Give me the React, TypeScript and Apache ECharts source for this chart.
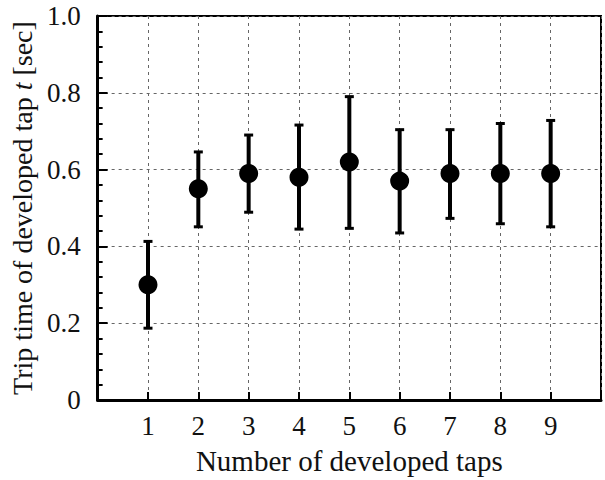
import React, { useEffect, useRef } from "react";
import * as echarts from "echarts";

const taps = [1, 2, 3, 4, 5, 6, 7, 8, 9];
const means = [0.3, 0.55, 0.59, 0.58, 0.62, 0.57, 0.59, 0.59, 0.59];
const upper = [0.413, 0.646, 0.69, 0.716, 0.79, 0.704, 0.704, 0.72, 0.728];
const lower = [0.187, 0.451, 0.489, 0.445, 0.447, 0.435, 0.473, 0.459, 0.451];

const FONT = "'Liberation Serif', 'Times New Roman', serif";

export default function App() {
  const ref = useRef<HTMLDivElement>(null);
  useEffect(() => {
    if (!ref.current) return;
    const chart = echarts.init(ref.current, null, { renderer: "svg" });
    const gridLine = { show: true, lineStyle: { color: "#666", width: 1, type: [3, 4] as any } };
    chart.setOption({
      animation: false,
      backgroundColor: "#fff",
      grid: { left: 97, top: 16, right: 4, bottom: 80, show: true, borderColor: "#000", borderWidth: 2, backgroundColor: "transparent" },
      xAxis: {
        type: "value",
        min: 0,
        max: 10,
        interval: 1,
        name: "Number of developed taps",
        nameLocation: "middle",
        nameGap: 46,
        nameTextStyle: { fontFamily: FONT, fontSize: 29, color: "#111" },
        axisLine: { show: true, onZero: false, lineStyle: { color: "#000", width: 3 } },
        axisTick: { show: true, inside: true, length: 8, lineStyle: { color: "#000", width: 2 } },
        axisLabel: {
          fontFamily: FONT,
          fontSize: 27,
          color: "#111",
          margin: 12,
          formatter: (v: number) => (v === 0 || v === 10 ? "" : String(v)),
        },
        splitLine: gridLine,
      },
      yAxis: {
        type: "value",
        min: 0,
        max: 1,
        interval: 0.2,
        name: "Trip time of developed tap {i|t} [sec]",
        nameLocation: "middle",
        nameGap: 54,
        nameTextStyle: {
          fontFamily: FONT,
          fontSize: 28,
          color: "#111",
          rich: { i: { fontFamily: FONT, fontSize: 28, fontStyle: "italic", color: "#111" } },
        },
        axisLine: { show: true, lineStyle: { color: "#000", width: 3 } },
        axisTick: { show: true, inside: true, length: 10, lineStyle: { color: "#000", width: 2 } },
        minorTick: { show: true, splitNumber: 5, length: 5, lineStyle: { color: "#000", width: 2 } },
        axisLabel: {
          fontFamily: FONT,
          fontSize: 27,
          color: "#111",
          margin: 17,
          formatter: (v: number) => (v === 0 ? "0" : v.toFixed(1)),
        },
        splitLine: gridLine,
      },
      series: [
        {
          type: "custom",
          data: taps.map((t, i) => [t, lower[i], upper[i]]),
          renderItem: (params: any, api: any) => {
            const x = api.value(0);
            const lo = api.coord([x, api.value(1)]);
            const hi = api.coord([x, api.value(2)]);
            const half = 4.5;
            const st = { stroke: "#000", lineWidth: 4 };
            const cap = { stroke: "#000", lineWidth: 3 };
            return {
              type: "group",
              children: [
                { type: "line", shape: { x1: lo[0], y1: lo[1], x2: hi[0], y2: hi[1] }, style: st },
                { type: "line", shape: { x1: hi[0] - half, y1: hi[1], x2: hi[0] + half, y2: hi[1] }, style: cap },
                { type: "line", shape: { x1: lo[0] - half, y1: lo[1], x2: lo[0] + half, y2: lo[1] }, style: cap },
              ],
            };
          },
          z: 2,
        },
        {
          type: "scatter",
          data: taps.map((t, i) => [t, means[i]]),
          symbol: "circle",
          symbolSize: 19,
          itemStyle: { color: "#000", opacity: 1 },
          z: 3,
        },
      ],
    });
    return () => chart.dispose();
  }, []);
  return <div ref={ref} style={{ width: 605, height: 480, position: "absolute", left: 0, top: 0 }} />;
}
